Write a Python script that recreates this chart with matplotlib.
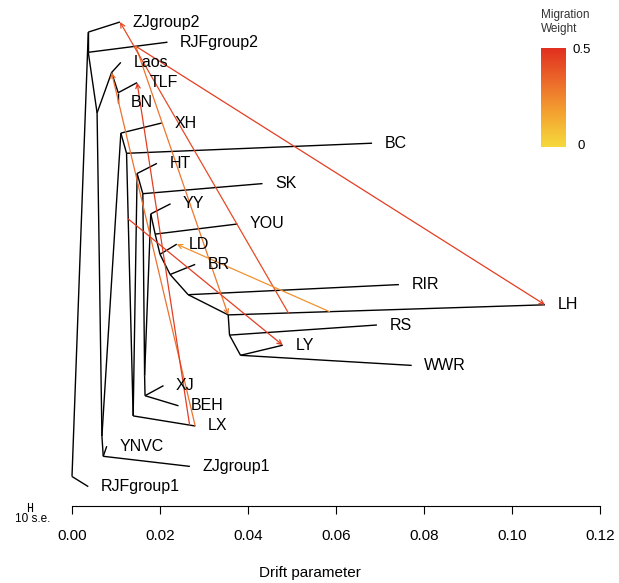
import matplotlib
matplotlib.use('Agg')
import matplotlib.pyplot as plt
from matplotlib.colors import LinearSegmentedColormap
import numpy as np

plt.rcParams['font.family'] = ['Liberation Sans', 'DejaVu Sans']

# populations (tips), top to bottom, and their drift from the root
pops = ['ZJgroup2', 'RJFgroup2', 'Laos', 'TLF', 'BN', 'XH', 'BC', 'HT', 'SK', 'YY',
        'YOU', 'LD', 'BR', 'RIR', 'LH', 'RS', 'LY', 'WWR', 'XJ', 'BEH', 'LX',
        'YNVC', 'ZJgroup1', 'RJFgroup1']
pop_drift = [0.0109, 0.0217, 0.0111, 0.0148, 0.0105, 0.0204, 0.0682, 0.0193, 0.0433, 0.0224,
             0.0376, 0.0238, 0.0280, 0.0743, 0.1075, 0.0693, 0.0479, 0.0772, 0.0208, 0.0242,
             0.0280, 0.0079, 0.0268, 0.0037]

# internal nodes: drift and (upper child, lower child)
nodes = ['root', 'A', 'B', 'E', 'F', 'G', 'R', 'Q', 'X', 'H', 'L', 'T', 'S', 'U', 'J',
         'Y1', 'N0', 'N1', 'N2', 'N3', 'N4', 'N5', 'N6']
node_drift = [0.0, 0.0037, 0.0037, 0.0057, 0.0090, 0.0105, 0.0068, 0.0071, 0.0111, 0.0124,
              0.0139, 0.0148, 0.0161, 0.0165, 0.0166, 0.0179, 0.0189, 0.0200, 0.0223, 0.0264,
              0.0355, 0.0358, 0.0383]
node_children = [('A', 'RJFgroup1'), ('ZJgroup2', 'B'), ('RJFgroup2', 'E'), ('F', 'R'),
                 ('Laos', 'G'), ('TLF', 'BN'), ('X', 'Q'), ('YNVC', 'ZJgroup1'), ('XH', 'H'),
                 ('BC', 'L'), ('T', 'LX'), ('HT', 'S'), ('SK', 'U'), ('Y1', 'J'), ('XJ', 'BEH'),
                 ('YY', 'N0'), ('YOU', 'N1'), ('LD', 'N2'), ('BR', 'N3'), ('RIR', 'N4'),
                 ('LH', 'N5'), ('RS', 'N6'), ('LY', 'WWR')]

# migration edges: source = point on the edge above mig_from, at fraction mig_frac
mig_from = ['RJFgroup2', 'RJFgroup2', 'LH', 'LH', 'LX', 'LX', 'L']
mig_frac = [0.60, 0.60, 0.19, 0.32, 1.00, 0.91, 0.25]
mig_to = ['LH', 'N4', 'ZJgroup2', 'LD', 'F', 'TLF', 'LY']
mig_weight = [0.46, 0.30, 0.42, 0.22, 0.31, 0.46, 0.46]

se_mean = 0.00011  # mean standard error, scale bar = 10 s.e.

# ---- layout of the tree ----
xpos = dict(zip(pops, pop_drift))
xpos.update(dict(zip(nodes, node_drift)))
kids = dict(zip(nodes, node_children))
parent = {c: p for p, cs in kids.items() for c in cs}
row = {p: i for i, p in enumerate(pops)}


def leaf_rows(n):
    if n in row:
        return [row[n]]
    return leaf_rows(kids[n][0]) + leaf_rows(kids[n][1])


ypos = dict(row)
for n in nodes:
    up, low = kids[n]
    ypos[n] = (max(leaf_rows(up)) + min(leaf_rows(low))) / 2.0

cmap = LinearSegmentedColormap.from_list('mig', ['#F6D93C', '#F4A431', '#EC6A2B', '#E1301F'])

fig = plt.figure(figsize=(6.19, 5.83), dpi=100)
ppx = 4400.0   # pixels per drift unit
axb = 506      # pixel row of the drift axis
ax = fig.add_axes([0, (583 - axb) / 583, 1, axb / 583])
ax.set_xlim(-72 / ppx, (619 - 72) / ppx)
ax.set_ylim((axb - 22) / 20.2, -22 / 20.2)

# tree edges
for n in nodes:
    for c in kids[n]:
        ax.plot([xpos[n], xpos[c]], [ypos[n], ypos[c]], color='black', lw=1.0,
                solid_capstyle='butt', zorder=2)

# population labels
for p in pops:
    ax.annotate(p, (xpos[p], ypos[p]), xytext=(9, 0), textcoords='offset points',
                ha='left', va='center', fontsize=11.5, zorder=4)

# migration arrows
for src, f, dst, w in zip(mig_from, mig_frac, mig_to, mig_weight):
    pa = parent[src]
    sx = xpos[pa] + f * (xpos[src] - xpos[pa])
    sy = ypos[pa] + f * (ypos[src] - ypos[pa])
    col = cmap(w / 0.5)
    ax.annotate('', xy=(xpos[dst], ypos[dst]), xytext=(sx, sy),
                arrowprops=dict(arrowstyle='->', color=col, lw=0.9, shrinkA=0, shrinkB=0,
                                mutation_scale=8), zorder=3)

# axis
for s in ['left', 'top', 'right']:
    ax.spines[s].set_visible(False)
ax.spines['bottom'].set_bounds(0, 0.12)
ax.spines['bottom'].set_linewidth(0.8)
ax.set_yticks([])
ticks = np.arange(0, 0.1201, 0.02)
ax.set_xticks(ticks)
ax.set_xticklabels(['%.2f' % t for t in ticks])
ax.tick_params(axis='x', length=5.8, width=0.8, labelsize=11, pad=11)
ax.set_xlabel('Drift parameter', fontsize=11, labelpad=16)

# scale bar (10 s.e.)
yb = (axb + 1 - 22) / 20.2
h = 0.22
x0 = -0.0101
x1 = x0 + 10 * se_mean
ax.plot([x0, x1], [yb, yb], color='black', lw=0.8, clip_on=False)
ax.plot([x0, x0], [yb - h, yb + h], color='black', lw=0.8, clip_on=False)
ax.plot([x1, x1], [yb - h, yb + h], color='black', lw=0.8, clip_on=False)
ax.text((x0 + x1) / 2 + 0.0007, (axb + 13 - 22) / 20.2, '10 s.e.', ha='center', va='center',
        fontsize=8.5, clip_on=False)

# colour legend for migration weight
cax = fig.add_axes([541 / 619, (583 - 147) / 583, 25 / 619, 99 / 583])
grad = np.linspace(1, 0, 100).reshape(-1, 1)
cax.imshow(grad, aspect='auto', cmap=cmap, extent=[0, 1, 0, 0.5])
cax.set_axis_off()
fig.text(541 / 619, 1 - 15 / 583, 'Migration', fontsize=8.5, color='#333333',
         ha='left', va='center')
fig.text(541 / 619, 1 - 29 / 583, 'Weight', fontsize=8.5, color='#333333',
         ha='left', va='center')
fig.text(582 / 619, 1 - 50 / 583, '0.5', fontsize=9.5, ha='center', va='center')
fig.text(581 / 619, 1 - 146 / 583, '0', fontsize=9.5, ha='center', va='center')

fig.savefig('out.png', dpi=100)
